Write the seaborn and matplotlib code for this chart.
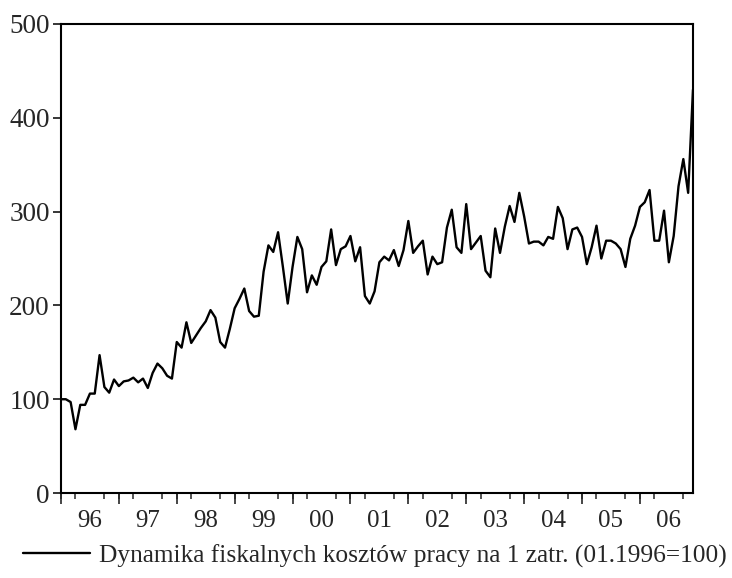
import numpy as np
import pandas as pd
import matplotlib
matplotlib.use("Agg")
import matplotlib.pyplot as plt
import seaborn as sns
from matplotlib.ticker import MultipleLocator

# monthly values, 01.1996 - 12.2006 (01.1996=100)
koszty = [100, 100, 97, 68, 94, 94, 106, 106, 147, 113, 107, 121,
          114, 119, 120, 123, 118, 122, 112, 128, 138, 133, 125, 122,
          161, 155, 182, 160, 168, 176, 183, 195, 187, 161, 155, 175,
          197, 207, 218, 194, 188, 189, 236, 264, 257, 278, 241, 202,
          241, 273, 260, 214, 232, 222, 241, 247, 281, 243, 260, 263,
          274, 247, 262, 210, 202, 215, 246, 252, 248, 259, 242, 259,
          290, 256, 263, 269, 233, 252, 244, 246, 283, 302, 262, 256,
          308, 260, 267, 274, 237, 230, 282, 256, 284, 306, 289, 320,
          295, 266, 268, 268, 264, 273, 271, 305, 293, 260, 281, 283,
          273, 244, 262, 285, 250, 269, 269, 266, 260, 241, 271, 285,
          305, 310, 323, 269, 269, 301, 246, 274, 327, 356, 320, 430]
lata = ['96', '97', '98', '99', '00', '01', '02', '03', '04', '05', '06']
y_ticks = [0, 100, 200, 300, 400, 500]
opis = 'Dynamika fiskalnych kosztów pracy na 1 zatr. (01.1996=100)'

df = pd.DataFrame({'miesiac': np.arange(len(koszty)), 'wartosc': koszty})

sns.set_style('ticks')
plt.rcParams['font.family'] = ['Liberation Serif', 'DejaVu Serif']

fig = plt.figure(figsize=(7.32, 5.78), dpi=100)
ax = fig.add_axes([0.0833, 0.147, 0.8634, 0.8115])

sns.lineplot(data=df, x='miesiac', y='wartosc', ax=ax, color='black',
             linewidth=1.7, label=opis)

ax.set_xlim(0, len(koszty) - 1)
ax.set_ylim(0, 500)
ax.set_xlabel('')
ax.set_ylabel('')

# year labels in the middle of each year, no tick mark
ax.set_xticks([6 + 12 * i for i in range(len(lata))], lata)
ax.tick_params(axis='x', which='major', length=0, pad=12, labelsize=18)
ax.xaxis.set_minor_locator(MultipleLocator(3))
ax.tick_params(axis='x', which='minor', length=4, width=1.1, direction='out')

# longer ticks at year boundaries
sec = ax.secondary_xaxis('bottom')
sec.set_xticks([12 * i for i in range(len(lata))])
sec.set_xticklabels([])
sec.tick_params(length=8, width=1.2)
sec.spines['bottom'].set_visible(False)

ax.set_yticks(y_ticks)
ax.tick_params(axis='y', length=6, width=1.3, pad=2, labelsize=19.5)

for s in ax.spines.values():
    s.set_linewidth(1.5)
    s.set_color('black')

ax.legend(loc='center', bbox_to_anchor=(0.512, 0.038),
          bbox_transform=fig.transFigure, frameon=False,
          handlelength=2.65, handletextpad=0.35, fontsize=18.3)

fig.savefig('out.png', dpi=100)
